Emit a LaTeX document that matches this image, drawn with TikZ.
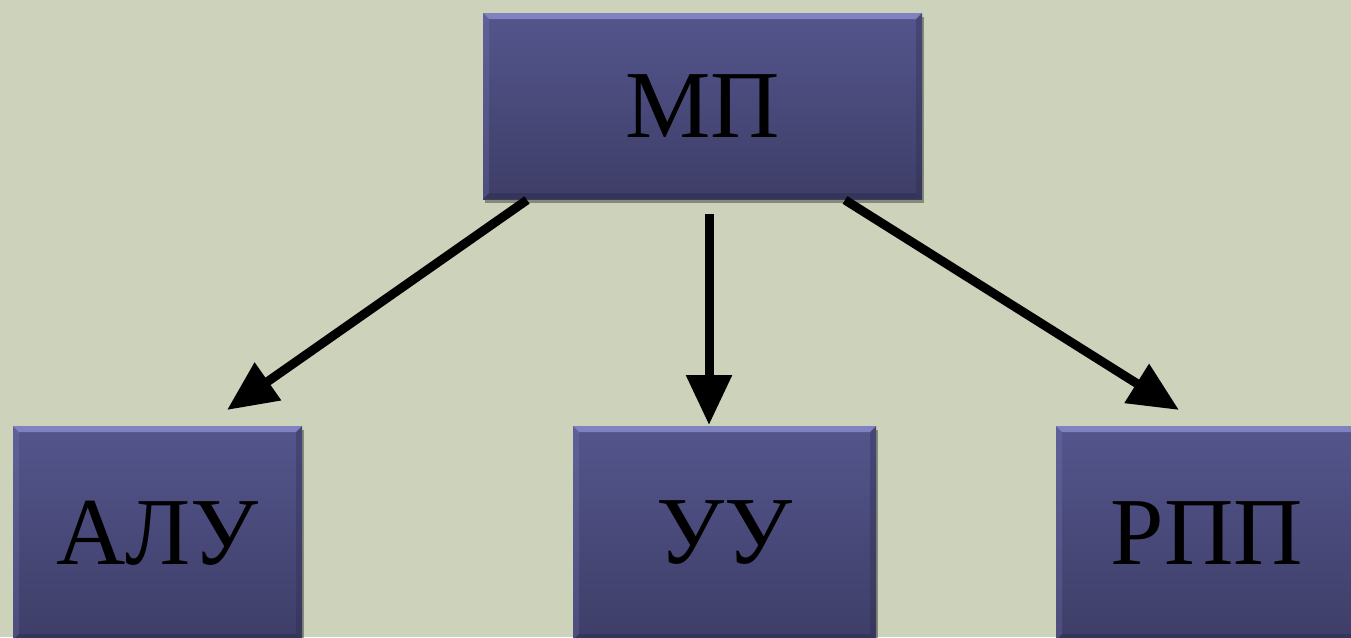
\documentclass[tikz,border=0pt]{standalone}
\usepackage{fontspec}
\setmainfont{Liberation Serif}
\usetikzlibrary{arrows.meta,shadows,shapes.geometric}
\definecolor{bg}{RGB}{205,211,187}
\definecolor{boxtop}{RGB}{84,85,140}
\definecolor{boxbot}{RGB}{62,62,104}
\definecolor{bevlight}{RGB}{140,142,205}
\definecolor{bevdark}{RGB}{40,40,70}
\tikzset{
  blockbox/.style={rectangle, inner sep=0pt, top color=boxtop, bottom color=boxbot,
    drop shadow={shadow xshift=2pt, shadow yshift=-4pt, opacity=0.35, fill=black},
    font=\fontsize{96}{110}\selectfont, text=black,
    path picture={
      \fill[bevlight, opacity=0.8] (path picture bounding box.north west) -- (path picture bounding box.north east)
        -- ([xshift=-6pt,yshift=-6pt]path picture bounding box.north east) -- ([xshift=6pt,yshift=-6pt]path picture bounding box.north west) -- cycle;
      \fill[bevlight, opacity=0.2] (path picture bounding box.north west) -- ([xshift=6pt,yshift=-6pt]path picture bounding box.north west)
        -- ([xshift=6pt,yshift=6pt]path picture bounding box.south west) -- (path picture bounding box.south west) -- cycle;
      \fill[bevdark, opacity=0.3] (path picture bounding box.north east) -- ([xshift=-6pt,yshift=-6pt]path picture bounding box.north east)
        -- ([xshift=-6pt,yshift=6pt]path picture bounding box.south east) -- (path picture bounding box.south east) -- cycle;
      \fill[bevdark, opacity=0.4] (path picture bounding box.south west) -- (path picture bounding box.south east)
        -- ([xshift=-6pt,yshift=6pt]path picture bounding box.south east) -- ([xshift=6pt,yshift=6pt]path picture bounding box.south west) -- cycle;
    }},
  conn/.style={line width=9pt, -{Triangle[length=50pt,width=44pt]}}
}
\begin{document}
\begin{tikzpicture}[x=1pt,y=-1pt]
\fill[bg] (0,0) rectangle (1351,637);
\useasboundingbox (0,0) rectangle (1351,637);
\clip (0,0) rectangle (1351,637);
\node[blockbox, minimum width=439pt, minimum height=186pt] (mp) at (702.5,106) {МП};
\node[blockbox, minimum width=289pt, minimum height=214pt] (alu) at (157.5,533) {АЛУ};
\node[blockbox, minimum width=303pt, minimum height=214pt] (uu) at (724.5,533) {УУ};
\node[blockbox, minimum width=302pt, minimum height=214pt] (rpp) at (1207,533) {РПП};
\coordinate (s1) at (527,200);
\coordinate (e1) at (227,410);
\coordinate (s2) at (709,214);
\coordinate (e2) at (709,425);
\coordinate (s3) at (845,200);
\coordinate (e3) at (1179,410);
\draw[conn] (s1) -- (e1);
\draw[conn] (s2) -- (e2);
\draw[conn] (s3) -- (e3);
\end{tikzpicture}
\end{document}
